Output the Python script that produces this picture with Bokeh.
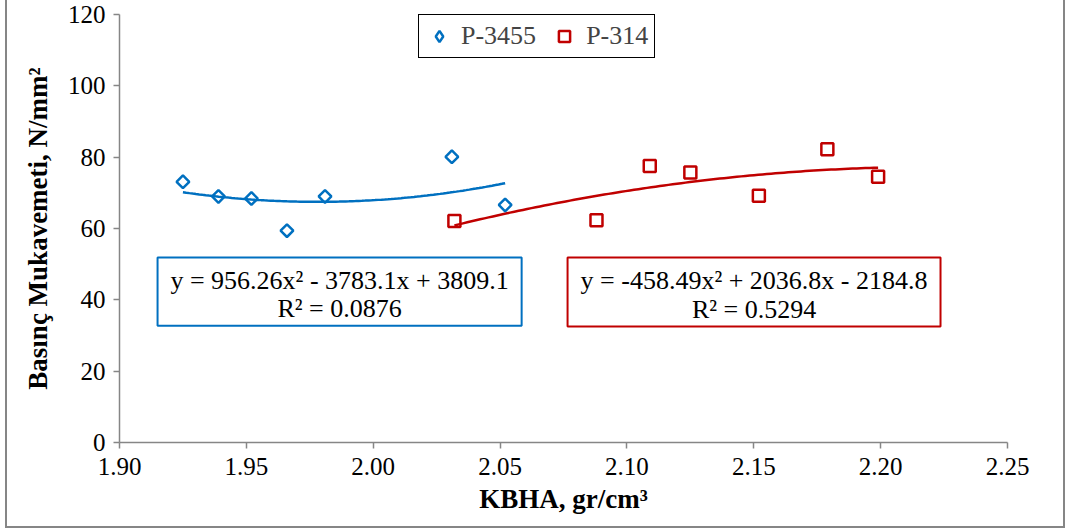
import numpy as np
from bokeh.plotting import figure
from bokeh.models import Range1d, Label, BoxAnnotation, Legend, LegendItem, FixedTicker, CustomJSTickFormatter
from bokeh.embed import file_html
from bokeh.resources import INLINE

# ---- data ----
p3455_x = [1.925, 1.939, 1.952, 1.966, 1.981, 2.031, 2.052]
p3455_y = [73.1, 69.0, 68.4, 59.4, 69.0, 80.1, 66.6]
p314_x = [2.032, 2.088, 2.109, 2.125, 2.152, 2.179, 2.199]
p314_y = [62.1, 62.3, 77.5, 75.7, 69.2, 82.2, 74.5]

# trendline coefficients printed on the chart (a, b, c for a*x^2 + b*x + c)
p3455_fit = [956.26, -3783.1, 3809.1]
p314_fit = [-458.49, 2036.8, -2184.8]
p3455_eq = ["y = 956.26x\u00b2 - 3783.1x + 3809.1", "R\u00b2 = 0.0876"]
p314_eq = ["y = -458.49x\u00b2 + 2036.8x - 2184.8", "R\u00b2 = 0.5294"]

x_ticks = [1.90, 1.95, 2.00, 2.05, 2.10, 2.15, 2.20, 2.25]
y_ticks = [0, 20, 40, 60, 80, 100, 120]

BLUE = "#0070C0"
RED = "#C00000"
AXC = "#868686"
FONT = "Liberation Serif"

# host gets a 2px border; content is offset 7px from the page's left edge
p = figure(width=1056, height=526, frame_width=888, frame_height=428,
           min_border_left=112, min_border_right=56, min_border_top=14, min_border_bottom=84,
           x_range=Range1d(1.90, 2.25), y_range=Range1d(0, 120),
           output_backend="svg", toolbar_location=None)
p.styles = {"border": "2px solid #868686", "margin-left": "5px", "margin-top": "-2px",
            "box-sizing": "content-box"}
p.outline_line_color = None
p.xgrid.visible = False
p.ygrid.visible = False
p.background_fill_color = "white"
p.border_fill_color = "white"

for ax in (p.xaxis[0], p.yaxis[0]):
    ax.axis_line_color = AXC
    ax.axis_line_width = 1.5
    ax.major_tick_line_color = AXC
    ax.major_tick_line_width = 1.5
    ax.major_tick_out = 6
    ax.major_tick_in = 0
    ax.minor_tick_line_color = None
    ax.major_label_text_font = FONT
    ax.major_label_text_font_size = "25px"
    ax.major_label_text_color = "black"
    ax.axis_label_text_font = FONT
    ax.axis_label_text_font_style = "bold"
    ax.axis_label_text_font_size = "27px"
    ax.axis_label_text_color = "black"

p.xaxis.ticker = FixedTicker(ticks=x_ticks)
p.xaxis.formatter = CustomJSTickFormatter(code="return tick.toFixed(2);")
p.yaxis.ticker = FixedTicker(ticks=y_ticks)
p.xaxis.axis_label = "KBHA, gr/cm\u00b3"
p.yaxis.axis_label = "Bas\u0131n\u00e7 Mukavemeti, N/mm\u00b2"
p.xaxis.major_label_standoff = 9
p.yaxis.major_label_standoff = 8
p.xaxis.axis_label_standoff = 6
p.yaxis.axis_label_standoff = 12

# trend lines from printed coefficients
def curve(xs, c):
    xx = np.linspace(min(xs), max(xs), 100)
    return xx, c[0] * xx ** 2 + c[1] * xx + c[2]

bx, by = curve(p3455_x, p3455_fit)
rx, ry = curve(p314_x, p314_fit)
p.line(bx, by, line_color=BLUE, line_width=2.5)
p.line(rx, ry, line_color=RED, line_width=2.5)

p.scatter(p3455_x, p3455_y, marker="square", angle=np.pi / 4, size=9, fill_color=None,
          line_color=BLUE, line_width=2.5)
r2 = p.scatter(p314_x, p314_y, marker="square", size=12, fill_color=None,
               line_color=RED, line_width=2.5)
# legend-only proxy (legend markers ignore angle); NaN point draws nothing on the plot
r1_leg = p.scatter(x=[float("nan")], y=[float("nan")], marker="diamond", size=9,
                   fill_color=None, line_color=BLUE, line_width=2.5)

legend = Legend(items=[LegendItem(label="P-3455", renderers=[r1_leg]),
                       LegendItem(label="P-314", renderers=[r2])],
                orientation="horizontal", location=(299, 384),
                label_text_font=FONT, label_text_font_size="26px",
                border_line_color="black", border_line_width=1.5, border_line_alpha=1,
                glyph_width=28, glyph_height=28, spacing=14, padding=6,
                margin=0, label_standoff=8, background_fill_alpha=1)
p.add_layout(legend, "center")

# equation boxes
boxes = [
    (p3455_eq, BLUE, (1.915, 2.0585, 32.7, 51.9)),
    (p314_eq, RED, (2.0766, 2.2236, 32.5, 51.9)),
]
for lines, col, (l, r, b, t) in boxes:
    p.add_layout(BoxAnnotation(left=l, right=r, bottom=b, top=t, fill_color="white",
                               fill_alpha=1, line_color=col, line_alpha=1, line_width=2,
                               level="overlay"))
    cx = (l + r) / 2
    p.add_layout(Label(x=cx, y=t - 6.4, text=lines[0], text_align="center", text_baseline="middle",
                       text_font=FONT, text_font_size="26px", text_color="black", level="overlay"))
    p.add_layout(Label(x=cx, y=b + 4.9, text=lines[1], text_align="center", text_baseline="middle",
                       text_font=FONT, text_font_size="26px", text_color="black", level="overlay"))

open("out.html", "w").write(file_html(p, INLINE))
